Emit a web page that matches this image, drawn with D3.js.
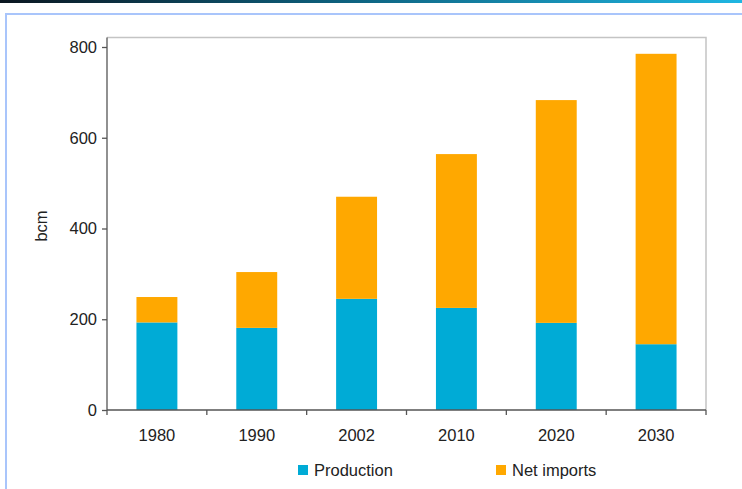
<!DOCTYPE html>
<html>
<head>
<meta charset="utf-8">
<script src="https://cdn.jsdelivr.net/npm/d3@7"></script>
<style>
  body { margin: 0; background: #fff; }
  svg { display: block; font-family: "Liberation Sans", Arial, sans-serif; }
</style>
</head>
<body>
<svg width="742" height="489"></svg>
<script>
// data
var years = ["1980", "1990", "2002", "2010", "2020", "2030"];
var production = [193, 181, 245, 225, 192, 145];
var netImports = [56, 123, 225, 339, 491, 640];
var seriesNames = ["Production", "Net imports"];
var seriesColors = ["#00abd6", "#ffa800"];
var yTicks = [0, 200, 400, 600, 800];

var svg = d3.select("svg"),
    width = +svg.attr("width"),
    height = +svg.attr("height");

// top band + slide frame
var defs = svg.append("defs");
var grad = defs.append("linearGradient").attr("id", "band");
grad.append("stop").attr("offset", "0%").attr("stop-color", "#0b1620");
grad.append("stop").attr("offset", "45%").attr("stop-color", "#0d5f7c");
grad.append("stop").attr("offset", "100%").attr("stop-color", "#1fb6e2");
svg.append("rect").attr("x", 0).attr("y", 0).attr("width", width).attr("height", 3)
    .attr("fill", "url(#band)");
svg.append("path")
    .attr("d", "M6,489 V14 H742")
    .attr("fill", "none")
    .attr("stroke", "#a9c5fb")
    .attr("stroke-width", 2);

var plotLeft = 107, plotRight = 706, plotTop = 37.5;

var x = d3.scaleBand().domain(years).range([plotLeft, plotRight]).paddingInner(0).paddingOuter(0);
var y = d3.scaleLinear().domain([0, 800]).range([410, 47]);

// plot area border (top & right light grey)
svg.append("path")
    .attr("d", "M" + plotLeft + "," + plotTop + " H" + plotRight + " V" + y(0))
    .attr("fill", "none")
    .attr("stroke", "#c4c4c4")
    .attr("stroke-width", 1.5);

// stacked bars
var rows = years.map(function(d, i) {
  return { year: d, Production: production[i], "Net imports": netImports[i] };
});
var stack = d3.stack().keys(seriesNames)(rows);
var barW = x.bandwidth() * 0.41;

svg.append("g").selectAll("g")
  .data(stack)
  .enter().append("g")
    .attr("fill", function(d, i) { return seriesColors[i]; })
  .selectAll("rect")
  .data(function(d) { return d; })
  .enter().append("rect")
    .attr("x", function(d) { return x(d.data.year) + (x.bandwidth() - barW) / 2; })
    .attr("width", barW)
    .attr("y", function(d) { return y(d[1]); })
    .attr("height", function(d) { return y(d[0]) - y(d[1]); });

// y axis
var yAxis = svg.append("g")
    .attr("transform", "translate(" + plotLeft + ",0)")
    .call(d3.axisLeft(y).tickValues(yTicks).tickSize(5).tickPadding(5));
yAxis.select(".domain").remove();
yAxis.append("line").attr("x1", 0).attr("x2", 0).attr("y1", plotTop).attr("y2", y(0));
yAxis.selectAll("line").attr("stroke", "#555").attr("stroke-width", 1.3);
yAxis.selectAll("text").attr("fill", "#222").style("font-size", "16.5px");

// x axis with ticks between categories
var xAxis = svg.append("g").attr("transform", "translate(0," + y(0) + ")");
xAxis.append("line").attr("x1", plotLeft).attr("x2", plotRight)
    .attr("stroke", "#555").attr("stroke-width", 1.3);
var edges = years.map(function(d) { return x(d); }).concat([plotRight]);
xAxis.selectAll(".tk").data(edges).enter().append("line")
    .attr("x1", function(d) { return d; }).attr("x2", function(d) { return d; })
    .attr("y1", 0).attr("y2", 5)
    .attr("stroke", "#555").attr("stroke-width", 1.3);
xAxis.selectAll(".lbl").data(years).enter().append("text")
    .attr("x", function(d) { return x(d) + x.bandwidth() / 2; })
    .attr("y", 31)
    .attr("text-anchor", "middle")
    .attr("fill", "#222")
    .style("font-size", "16.5px")
    .text(function(d) { return d; });

// y label
svg.append("text")
    .attr("transform", "translate(47,226) rotate(-90)")
    .attr("text-anchor", "middle")
    .attr("fill", "#222")
    .style("font-size", "16.5px")
    .text("bcm");

// legend
var legendX = [298, 496];
var legend = svg.append("g").selectAll("g")
  .data(seriesNames)
  .enter().append("g")
    .attr("transform", function(d, i) { return "translate(" + legendX[i] + ",465)"; });
legend.append("rect").attr("width", 10).attr("height", 10)
    .attr("fill", function(d, i) { return seriesColors[i]; });
legend.append("text")
    .attr("x", 16).attr("y", 11)
    .attr("fill", "#222")
    .style("font-size", "16.5px")
    .text(function(d) { return d; });
</script>
</body>
</html>
